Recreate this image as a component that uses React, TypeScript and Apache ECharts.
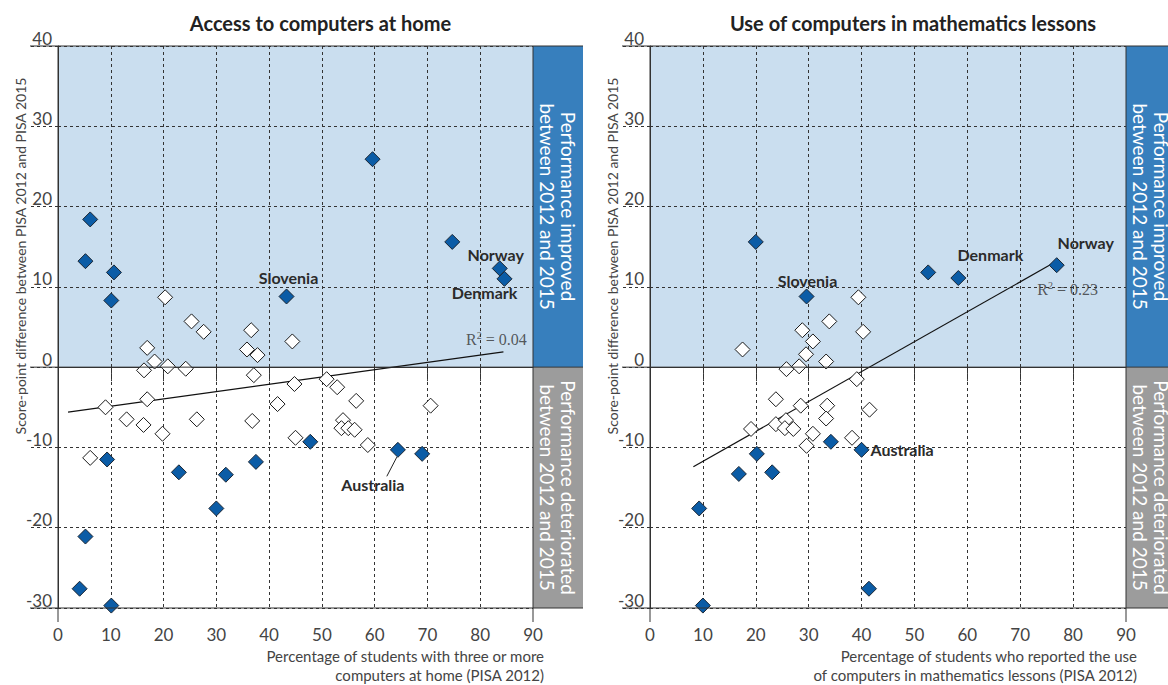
import React, { useEffect, useRef } from 'react';
import * as echarts from 'echarts';

// ---------- DATA ----------
// Access to computers at home: [x = % students with 3+ computers, y = score-point change, optional country]
const homeSignificant: any[] = [
  [6.1, 18.4], [5.2, 13.2], [10.6, 11.8], [10.1, 8.3], [43.3, 8.8, 'Slovenia'],
  [59.6, 25.9], [74.7, 15.6], [83.7, 12.3, 'Norway'], [84.6, 11.0, 'Denmark'],
  [9.3, -11.5], [22.9, -13.1], [31.8, -13.4], [30.0, -17.6], [37.5, -11.8],
  [5.2, -21.1], [4.1, -27.6], [10.1, -29.7], [47.8, -9.3], [64.4, -10.3, 'Australia'], [69.0, -10.8],
];
const homeNotSignificant: number[][] = [
  [20.3, 8.7], [25.3, 5.7], [27.6, 4.4], [36.6, 4.6], [35.8, 2.2], [37.8, 1.5], [44.4, 3.2],
  [16.9, 2.4], [18.3, 0.7], [16.3, -0.4], [20.8, 0.1], [24.2, -0.2], [37.1, -1.0], [44.8, -2.1],
  [9.0, -5.0], [16.9, -4.0], [13.0, -6.5], [16.2, -7.2], [19.8, -8.3], [26.3, -6.5], [41.6, -4.6],
  [36.8, -6.7], [45.0, -8.8], [6.1, -11.3], [50.9, -1.5], [52.9, -2.5], [56.5, -4.2], [70.6, -4.8],
  [54.0, -6.6], [53.7, -7.6], [55.0, -7.6], [56.2, -7.8], [58.7, -9.7],
];
const homeTrend: number[][] = [[1.9, -5.6], [84.4, 1.9]];
const homeR2 = { value: '0.04', x: 88.8, y: 3.4 };
const homeLeader: number[][] = [[64.2, -11.2], [62.3, -13.6]];

// Use of computers in mathematics lessons
const lessonsSignificant: any[] = [
  [20.0, 15.6], [29.6, 8.8, 'Slovenia'], [52.6, 11.8], [58.3, 11.1, 'Denmark'], [76.9, 12.7, 'Norway'],
  [34.2, -9.3], [40.0, -10.3, 'Australia'], [20.2, -10.8], [16.8, -13.3], [23.1, -13.1],
  [9.3, -17.6], [41.4, -27.6], [10.0, -29.7],
];
const lessonsNotSignificant: number[][] = [
  [39.4, 8.7], [33.9, 5.7], [40.3, 4.4], [28.8, 4.6], [30.8, 3.2], [17.5, 2.2], [29.5, 1.6],
  [33.3, 0.7], [25.8, -0.25], [28.2, 0.1], [39.1, -1.5], [23.8, -4.0], [28.5, -4.8], [33.5, -4.8],
  [41.5, -5.3], [33.3, -6.4], [23.8, -7.1], [25.7, -6.6], [25.5, -7.6], [27.1, -7.7], [19.1, -7.7],
  [30.8, -8.3], [38.2, -8.8], [29.6, -9.8],
];
const lessonsTrend: number[][] = [[8.2, -12.4], [76.1, 12.9]];
const lessonsR2 = { value: '0.23', x: 84.7, y: 9.7 };

const panelTitles = ['Access to computers at home', 'Use of computers in mathematics lessons'];
const xAxisTitles = [
  'Percentage of students with three or more\ncomputers at home (PISA 2012)',
  'Percentage of students who reported the use\nof computers in mathematics lessons (PISA 2012)',
];
const yAxisTitle = 'Score-point difference between PISA 2012 and PISA 2015';
const bandTexts = ['Performance improved\nbetween 2012 and 2015', 'Performance deteriorated\nbetween 2012 and 2015'];

// ---------- STYLE ----------
const FONT = 'Lato, "Open Sans", sans-serif';
const LINE = '#333333';
const LIGHT_BLUE = '#cadeef';
const BAND_BLUE = '#377fbd';
const BAND_GRAY = '#9c9c9c';
const DIAMOND_BLUE = '#0b5ca6';

const labelStyles: Record<string, Record<string, any>> = {
  home: {
    Slovenia: { position: 'inside', offset: [2, -19] },
    Norway: { position: 'inside', offset: [-4, -14] },
    Denmark: { position: 'inside', offset: [-20, 14] },
    Australia: { position: 'inside', offset: [-25, 35] },
  },
  lessons: {
    Slovenia: { position: 'inside', offset: [1, -16] },
    Denmark: { position: 'inside', offset: [32, -24] },
    Norway: { position: 'inside', offset: [29, -23] },
    Australia: { position: 'right', distance: 1 },
  },
};

const GRIDS = [
  { left: 58, top: 46, width: 475, height: 562 },
  { left: 650, top: 46, width: 476, height: 562 },
];

function sigData(arr: any[], key: string) {
  return arr.map((d) => {
    const item: any = { value: [d[0], d[1]] };
    if (d[2]) {
      item.name = d[2];
      item.label = {
        show: true,
        formatter: d[2],
        color: '#2b2b2b',
        fontWeight: 'bold',
        fontSize: 16,
        fontFamily: FONT,
        ...labelStyles[key][d[2]],
      };
    }
    return item;
  });
}

function axes(gi: number) {
  const xAxis = {
    gridIndex: gi,
    type: 'value',
    min: 0,
    max: 90,
    interval: 10,
    axisLine: { show: true, lineStyle: { color: LINE, width: 1 } },
    axisTick: { show: true, length: 14, lineStyle: { color: LINE, type: [3, 3] } },
    axisLabel: { color: '#444', fontSize: 17, margin: 18, fontFamily: FONT },
    splitLine: { show: true, lineStyle: { color: LINE, type: [3, 3], width: 1 } },
  };
  const yAxis = {
    gridIndex: gi,
    type: 'value',
    min: -30,
    max: 40,
    interval: 10,
    axisLine: { show: true, lineStyle: { color: LINE, width: 1 } },
    axisTick: { show: true, length: 28, lineStyle: { color: LINE, type: [3, 3] } },
    axisLabel: {
      color: '#444', fontSize: 17, margin: 6, fontFamily: FONT,
      verticalAlign: 'bottom', lineHeight: 16,
    },
    splitLine: { show: true, lineStyle: { color: LINE, type: [3, 3], width: 1 } },
  };
  return { xAxis, yAxis };
}

function panelSeries(gi: number, key: string, sig: any[], notSig: number[][], trend: number[][], r2: any, leader?: number[][]) {
  const s: any[] = [
    {
      type: 'line', xAxisIndex: gi, yAxisIndex: gi, data: trend, symbol: 'none', z: 2,
      lineStyle: { color: '#111', width: 1.2 }, silent: true,
    },
    {
      type: 'scatter', xAxisIndex: gi, yAxisIndex: gi, data: notSig, symbol: 'diamond', symbolSize: 15, z: 3,
      itemStyle: { color: '#ffffff', borderColor: '#1a1a1a', borderWidth: 1, opacity: 1 },
    },
    {
      type: 'scatter', xAxisIndex: gi, yAxisIndex: gi, data: sigData(sig, key), symbol: 'diamond', symbolSize: 15, z: 4,
      itemStyle: { color: DIAMOND_BLUE, borderColor: '#1b2633', borderWidth: 1, opacity: 1 },
    },
    {
      type: 'scatter', xAxisIndex: gi, yAxisIndex: gi, symbolSize: 0, z: 5, silent: true,
      data: [{ value: [r2.x, r2.y] }],
      label: {
        show: true, position: 'left', distance: 0,
        formatter: 'R{s|2} = ' + r2.value,
        color: '#333', fontSize: 16, fontFamily: '"Liberation Serif", serif',
        rich: { s: { fontSize: 10, verticalAlign: 'top', padding: [0, 0, 8, 0], fontFamily: '"Liberation Serif", serif', color: '#333' } },
      },
    },
  ];
  if (leader) {
    s.push({
      type: 'line', xAxisIndex: gi, yAxisIndex: gi, data: leader, symbol: 'none', z: 5,
      lineStyle: { color: '#222', width: 1 }, silent: true,
    });
  }
  return s;
}

export default function App() {
  const ref = useRef<HTMLDivElement>(null);
  useEffect(() => {
    if (!ref.current) return;
    const chart = echarts.init(ref.current, null, { renderer: 'svg' });
    const a0 = axes(0);
    const a1 = axes(1);
    chart.setOption({
      animation: false,
      backgroundColor: '#ffffff',
      grid: GRIDS.map((g) => ({ ...g, containLabel: false })),
      xAxis: [a0.xAxis, a1.xAxis],
      yAxis: [a0.yAxis, a1.yAxis],
      series: [
        ...panelSeries(0, 'home', homeSignificant, homeNotSignificant, homeTrend, homeR2, homeLeader),
        ...panelSeries(1, 'lessons', lessonsSignificant, lessonsNotSignificant, lessonsTrend, lessonsR2),
      ],
    });

    const elements: any[] = [];
    const bandWidth = 50;
    for (let gi = 0; gi < 2; gi++) {
      const P = (x: number, y: number) => chart.convertToPixel({ gridIndex: gi } as any, [x, y]) as number[];
      const [x0, yTop] = P(0, 40);
      const [x90, yZero] = P(90, 0);
      const yBot = P(0, -30)[1];
      const bandR = x90 + bandWidth;
      elements.push({ type: 'rect', z: -1, silent: true, shape: { x: x0, y: yTop, width: x90 - x0, height: yZero - yTop }, style: { fill: LIGHT_BLUE } });
      elements.push({ type: 'rect', z: 1, silent: true, shape: { x: x90, y: yTop, width: bandWidth, height: yZero - yTop }, style: { fill: BAND_BLUE } });
      elements.push({ type: 'rect', z: 1, silent: true, shape: { x: x90, y: yZero, width: bandWidth, height: yBot - yZero }, style: { fill: BAND_GRAY } });
      const ls = { stroke: LINE, lineWidth: 1 };
      elements.push({ type: 'line', z: 6, silent: true, shape: { x1: x0 - 28, y1: yTop, x2: bandR, y2: yTop }, style: ls });
      elements.push({ type: 'line', z: 6, silent: true, shape: { x1: x0 - 28, y1: yZero, x2: bandR, y2: yZero }, style: ls });
      elements.push({ type: 'line', z: 6, silent: true, shape: { x1: x0 - 28, y1: yBot, x2: bandR, y2: yBot }, style: ls });
      elements.push({ type: 'line', z: 6, silent: true, shape: { x1: x0, y1: yTop, x2: x0, y2: yBot + 14 }, style: ls });
      elements.push({ type: 'line', z: 6, silent: true, shape: { x1: x90, y1: yTop, x2: x90, y2: yBot + 14 }, style: ls });
      const bx = x90 + bandWidth / 2;
      elements.push({
        type: 'text', z: 7, silent: true, x: bx, y: (yTop + yZero) / 2, rotation: -Math.PI / 2,
        style: { text: bandTexts[0], fill: '#ffffff', fontSize: 19, fontFamily: FONT, lineHeight: 21, align: 'center', verticalAlign: 'middle', textAlign: 'center', textVerticalAlign: 'middle' },
      });
      elements.push({
        type: 'text', z: 7, silent: true, x: bx, y: (yZero + yBot) / 2, rotation: -Math.PI / 2,
        style: { text: bandTexts[1], fill: '#ffffff', fontSize: 19, fontFamily: FONT, lineHeight: 21, align: 'center', verticalAlign: 'middle', textAlign: 'center', textVerticalAlign: 'middle' },
      });
      elements.push({
        type: 'text', z: 7, silent: true, x: (x0 + bandR) / 2, y: 23,
        style: { text: panelTitles[gi], fill: '#222', fontSize: 20, fontWeight: 'bold', fontFamily: FONT, align: 'center', verticalAlign: 'middle', textAlign: 'center', textVerticalAlign: 'middle' },
      });
      elements.push({
        type: 'text', z: 7, silent: true, x: x0 - 38, y: 256, rotation: Math.PI / 2,
        style: { text: yAxisTitle, fill: '#444', fontSize: 14, fontFamily: FONT, align: 'center', verticalAlign: 'middle', textAlign: 'center', textVerticalAlign: 'middle' },
      });
      elements.push({
        type: 'text', z: 7, silent: true, x: x90 + 11, y: 665,
        style: { text: xAxisTitles[gi], fill: '#444', fontSize: 15, fontFamily: FONT, lineHeight: 19, align: 'right', verticalAlign: 'middle', textAlign: 'right', textVerticalAlign: 'middle' },
      });
    }
    chart.setOption({ graphic: { elements } });
    return () => chart.dispose();
  }, []);
  return <div ref={ref} style={{ position: 'absolute', left: 0, top: 0, width: 1168, height: 685 }} />;
}
